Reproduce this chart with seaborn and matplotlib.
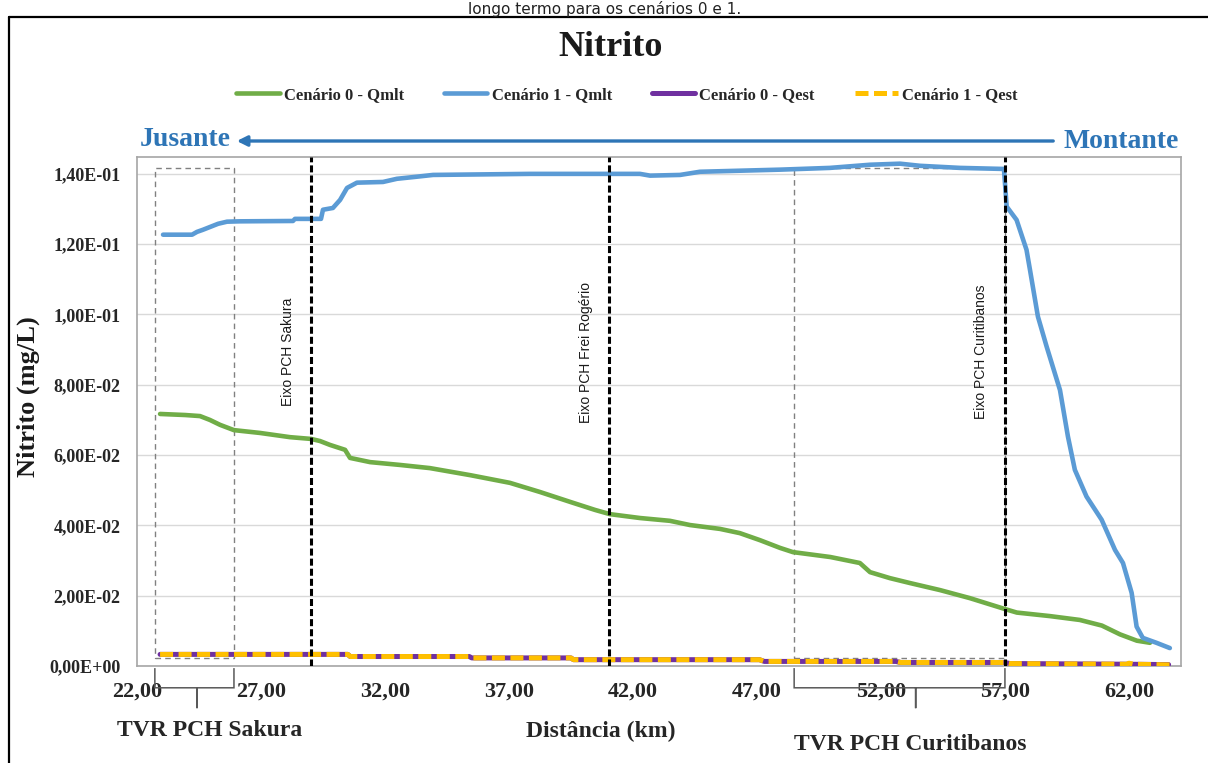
import matplotlib
matplotlib.use("Agg")
import matplotlib.pyplot as plt
import seaborn as sns
from matplotlib.lines import Line2D
from matplotlib.patches import Rectangle, PathPatch
from matplotlib.path import Path

# Nitrito (mg/L) ao longo da distância (km)
c0_qmlt_km = [22.93, 23.94, 24.54, 24.94, 25.35, 25.91, 26.96, 28.17, 29.02, 29.38,
              29.78, 30.39, 30.59, 31.40, 32.60, 33.81, 35.43, 37.04, 38.25, 39.46,
              40.47, 41.07, 42.28, 43.49, 44.30, 45.51, 46.31, 47.12, 47.93, 48.45,
              49.96, 51.15, 51.56, 52.36, 53.17, 54.38, 55.59, 57.00, 57.48, 58.81,
              60.02, 60.91, 61.64, 62.32, 62.85]
c0_qmlt = [0.0717, 0.0714, 0.0711, 0.0700, 0.0686, 0.0671, 0.0663, 0.0651, 0.0646, 0.0640,
           0.0629, 0.0615, 0.0592, 0.0580, 0.0572, 0.0563, 0.0543, 0.0521, 0.0495, 0.0467,
           0.0444, 0.0432, 0.0421, 0.0413, 0.0401, 0.0390, 0.0378, 0.0358, 0.0336, 0.0324,
           0.0310, 0.0293, 0.0267, 0.0250, 0.0236, 0.0216, 0.0193, 0.0162, 0.0152, 0.0142,
           0.0131, 0.0115, 0.0090, 0.0072, 0.0066]

c1_qmlt_km = [23.05, 24.22, 24.42, 24.66, 25.27, 25.63, 26.15, 28.29, 28.37, 29.42,
              29.50, 29.90, 30.19, 30.47, 30.87, 31.92, 32.48, 33.29, 33.94, 37.85,
              42.28, 42.69, 43.90, 44.70, 47.93, 49.94, 51.56, 52.77, 53.57, 55.19,
              56.96, 57.07, 57.47, 57.87, 58.01, 58.33, 58.68, 59.22, 59.54, 59.82,
              60.29, 60.90, 61.44, 61.76, 62.11, 62.31, 62.56, 63.11, 63.65]
c1_qmlt = [0.1227, 0.1227, 0.1235, 0.1241, 0.1258, 0.1264, 0.1265, 0.1266, 0.1272, 0.1272,
           0.1298, 0.1303, 0.1326, 0.1360, 0.1375, 0.1377, 0.1386, 0.1392, 0.1397, 0.1400,
           0.1400, 0.1395, 0.1397, 0.1406, 0.1412, 0.1417, 0.1426, 0.1429, 0.1423, 0.1417,
           0.1414, 0.1307, 0.1269, 0.1184, 0.1127, 0.0994, 0.0909, 0.0785, 0.0653, 0.0558,
           0.0482, 0.0416, 0.0330, 0.0293, 0.0208, 0.0112, 0.0080, 0.0066, 0.0051]

c0_qest_km = [22.93, 30.50, 30.60, 35.40, 35.50, 39.50, 39.60, 47.10, 47.30, 52.60,
              52.80, 57.00, 57.20, 62.00, 63.60]
c0_qest = [0.0033, 0.0033, 0.0027, 0.0027, 0.0023, 0.0023, 0.0018, 0.0018, 0.0013, 0.0013,
           0.0010, 0.0010, 0.0007, 0.0005, 0.0004]

c1_qest_km = [22.93, 30.50, 30.60, 35.40, 35.50, 39.50, 39.60, 47.10, 47.30, 52.60,
              52.80, 57.00, 57.20, 61.90, 62.00, 62.20, 63.80]
c1_qest = [0.0033, 0.0033, 0.0027, 0.0027, 0.0023, 0.0023, 0.0018, 0.0018, 0.0013, 0.0013,
           0.0010, 0.0010, 0.0007, 0.0005, 0.0008, 0.0005, 0.0003]

eixo_names = ["Eixo PCH Sakura", "Eixo PCH Frei Rogério", "Eixo PCH Curitibanos"]
eixo_km = [29.02, 41.05, 57.0]

tvr_names = ["TVR PCH Sakura", "TVR PCH Curitibanos"]
tvr_span = [(22.72, 25.91), (48.50, 57.0)]
tvr_tip = [24.42, 53.40]

x_ticks = [22, 27, 32, 37, 42, 47, 52, 57, 62]
y_ticks = [0.0, 0.02, 0.04, 0.06, 0.08, 0.10, 0.12, 0.14]

GREEN, BLUE, PURPLE, YELLOW = "#70ad47", "#5b9bd5", "#7030a0", "#ffc000"
ARROW_BLUE = "#2e75b6"

sns.set_style("white")
plt.rcParams["font.family"] = ["Liberation Serif", "DejaVu Serif"]

W, H = 1208, 763
fig = plt.figure(figsize=(W / 100, H / 100), dpi=100)
ax = fig.add_axes([137 / W, 1 - 666 / H, (1181 - 137) / W, (666 - 157) / H])

lw = 3.3
sns.lineplot(x=c0_qmlt_km, y=c0_qmlt, ax=ax, sort=False, estimator=None, legend=False,
             color=GREEN, lw=lw, label="Cenário 0 - Qmlt", zorder=3)
sns.lineplot(x=c1_qmlt_km, y=c1_qmlt, ax=ax, sort=False, estimator=None, legend=False,
             color=BLUE, lw=lw, label="Cenário 1 - Qmlt", zorder=3)
sns.lineplot(x=c0_qest_km, y=c0_qest, ax=ax, sort=False, estimator=None, legend=False,
             color=PURPLE, lw=3.6, label="Cenário 0 - Qest", zorder=3)
sns.lineplot(x=c1_qest_km, y=c1_qest, ax=ax, sort=False, estimator=None, legend=False,
             color=YELLOW, lw=3.6, label="Cenário 1 - Qest", zorder=4,
             linestyle=(0, (2.6, 1.1)))
handles, labels = ax.get_legend_handles_labels()

ax.set_xlim(22, 64.1)
ax.set_ylim(0, 0.1448)
ax.set_xticks(x_ticks)
ax.set_xticklabels([f"{v:.2f}".replace(".", ",") for v in x_ticks])
ax.set_yticks(y_ticks)
ax.set_yticklabels([f"{v:.2E}".replace(".", ",") for v in y_ticks])
ax.tick_params(axis="x", direction="in", length=5, color="#a6a6a6", pad=11, labelsize=16)
ax.tick_params(axis="y", length=0, pad=12, labelsize=13)
for lab in ax.get_xticklabels() + ax.get_yticklabels():
    lab.set_fontweight("bold")
    lab.set_color("#262626")
ax.set_xlabel("")
ax.set_ylabel("")
ax.yaxis.grid(True, color="#d9d9d9", lw=1)
ax.set_axisbelow(True)
for s in ax.spines.values():
    s.set_color("#a6a6a6")
    s.set_linewidth(1.2)

# eixos das PCHs
for name, km in zip(eixo_names, eixo_km):
    ax.axvline(km, color="black", lw=2.2, linestyle=(0, (2.3, 1.0)), zorder=6)
    ax.text(km - 0.95, 0.0893, name, rotation=90, ha="center", va="center",
            fontsize=10, family=["Liberation Sans", "DejaVu Sans"], color="#1a1a1a")

# trechos de vazão reduzida: caixas tracejadas e chaves
for (a, b), tip, name in zip(tvr_span, tvr_tip, tvr_names):
    ax.add_patch(Rectangle((a, 0.0023), b - a, 0.1416 - 0.0023, fill=False,
                           ec="#808080", lw=1, ls=(0, (4, 3)), zorder=2))
    y0, y1, y2 = -0.0006, -0.0062, -0.0120
    r = 0.4
    verts = [(a, y0), (a, y1), (a, y1), (a + r, y1),
             (tip - r, y1), (tip, y1), (tip, y1), (tip, y2),
             (tip, y2), (tip, y1), (tip, y1), (tip + r, y1),
             (b - r, y1), (b, y1), (b, y1), (b, y0)]
    codes = [Path.MOVETO, Path.LINETO, Path.CURVE3, Path.CURVE3,
             Path.LINETO, Path.CURVE3, Path.CURVE3, Path.LINETO,
             Path.MOVETO, Path.LINETO, Path.CURVE3, Path.CURVE3,
             Path.LINETO, Path.CURVE3, Path.CURVE3, Path.LINETO]
    ax.add_patch(PathPatch(Path(verts, codes), fill=False, ec="#595959", lw=1.1,
                           clip_on=False, zorder=2))

# textos da figura
fig.text(605 / W, 1 - 1 / H, "longo termo para os cenários 0 e 1.", ha="center",
         va="top", fontsize=11, family=["DejaVu Sans"], color="#222222")
fig.text(611 / W, 1 - 47 / H, "Nitrito", ha="center", va="center", fontsize=26,
         fontweight="bold", color="#1a1a1a")
fig.legend(handles, labels, loc="center", bbox_to_anchor=(627 / W, 1 - 95 / H), ncol=4,
           frameon=False, prop={"size": 12, "weight": "bold"}, handlelength=2.6,
           handletextpad=0.25, columnspacing=2.4)
fig.text(140 / W, 1 - 140 / H, "Jusante", ha="left", va="center", fontsize=20,
         fontweight="bold", color=ARROW_BLUE)
fig.text(1179 / W, 1 - 141 / H, "Montante", ha="right", va="center", fontsize=20,
         fontweight="bold", color=ARROW_BLUE)
fig.add_artist(plt.Annotation("", xy=(234 / W, 1 - 141 / H), xytext=(1056 / W, 1 - 141 / H),
                              xycoords="figure fraction", textcoords="figure fraction",
                              arrowprops=dict(arrowstyle="-|>,head_length=0.6,head_width=0.3",
                                              color=ARROW_BLUE, lw=2.4)))
fig.text(28 / W, 1 - 397 / H, "Nitrito (mg/L)", rotation=90, ha="center", va="center",
         fontsize=19, fontweight="bold", color="#1a1a1a")
fig.text(601 / W, 1 - 731 / H, "Distância (km)", ha="center", va="center", fontsize=17,
         fontweight="bold", color="#262626")
fig.text(210 / W, 1 - 731 / H, tvr_names[0], ha="center", va="center", fontsize=17,
         fontweight="bold", color="#262626")
fig.text(910 / W, 1 - 744 / H, tvr_names[1], ha="center", va="center", fontsize=17,
         fontweight="bold", color="#262626")

# moldura externa
fig.add_artist(Line2D([9 / W, 9 / W], [0, 1 - 17 / H], color="black", lw=1.6))
fig.add_artist(Line2D([9 / W, 1], [1 - 17 / H, 1 - 17 / H], color="black", lw=1.6))

fig.savefig("out.png", dpi=100)
